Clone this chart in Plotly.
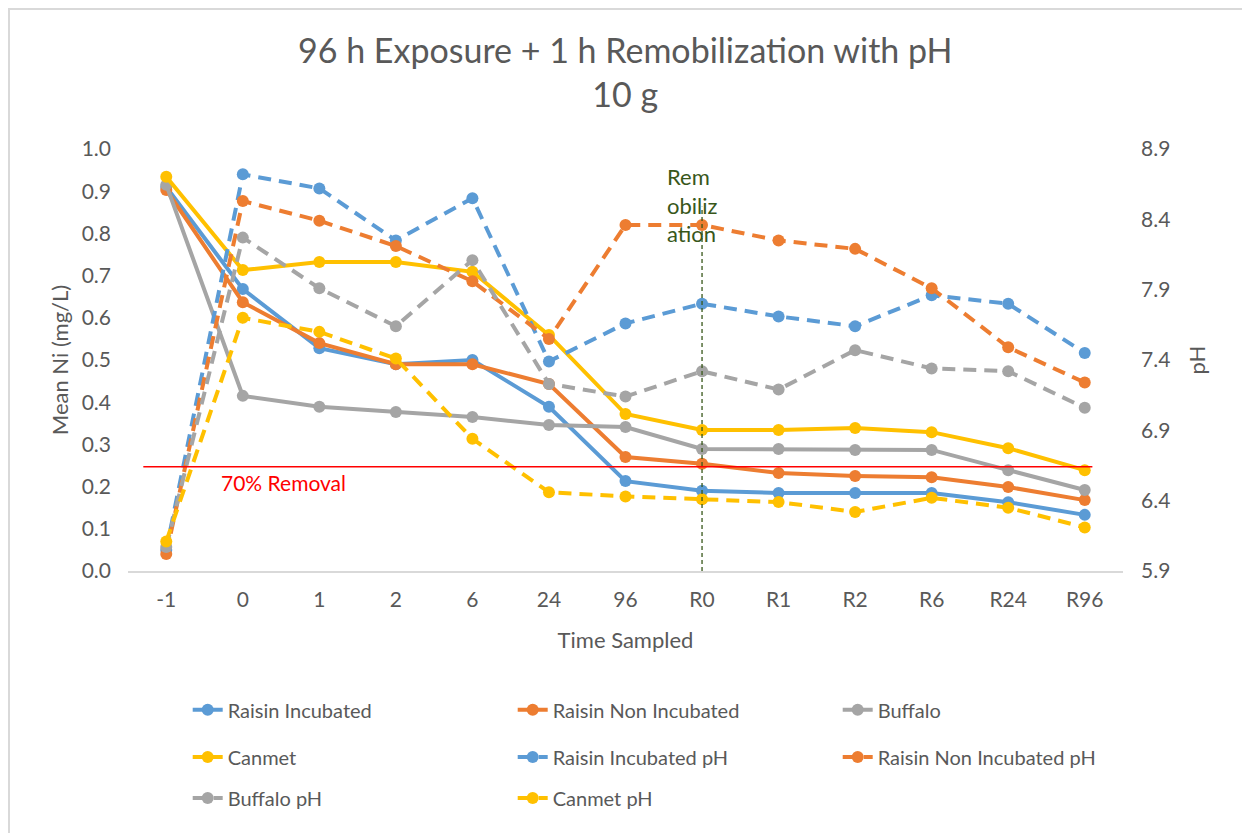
import plotly.graph_objects as go

categories = ["-1", "0", "1", "2", "6", "24", "96", "R0", "R1", "R2", "R6", "R24", "R96"]

raisin_inc = [0.91, 0.668, 0.528, 0.49, 0.50, 0.389, 0.213, 0.19, 0.185, 0.185, 0.185, 0.163, 0.133]
raisin_non = [0.903, 0.637, 0.54, 0.49, 0.49, 0.443, 0.27, 0.254, 0.232, 0.225, 0.222, 0.199, 0.168]
buffalo = [0.915, 0.415, 0.389, 0.377, 0.365, 0.346, 0.341, 0.289, 0.289, 0.287, 0.287, 0.239, 0.192]
canmet = [0.934, 0.713, 0.732, 0.732, 0.709, 0.559, 0.372, 0.334, 0.334, 0.339, 0.329, 0.291, 0.239]

raisin_inc_ph = [6.05, 8.72, 8.62, 8.25, 8.55, 7.39, 7.66, 7.80, 7.71, 7.64, 7.86, 7.80, 7.45]
raisin_non_ph = [6.02, 8.53, 8.39, 8.21, 7.96, 7.55, 8.36, 8.36, 8.25, 8.19, 7.91, 7.49, 7.24]
buffalo_ph = [6.07, 8.27, 7.91, 7.64, 8.11, 7.23, 7.14, 7.32, 7.19, 7.47, 7.34, 7.32, 7.06]
canmet_ph = [6.11, 7.70, 7.60, 7.41, 6.84, 6.46, 6.43, 6.41, 6.39, 6.32, 6.42, 6.35, 6.21]

removal_70 = 0.247

BLUE = "#5B9BD5"
ORANGE = "#ED7D31"
GRAY = "#A5A5A5"
YELLOW = "#FFC000"
TXT = "#595959"
FONT = "Lato"
DASH = "13px,8px"

fig = go.Figure()

series = [
    ("Raisin Incubated", raisin_inc, BLUE, "solid", "y", "legend"),
    ("Raisin Non Incubated", raisin_non, ORANGE, "solid", "y", "legend"),
    ("Buffalo", buffalo, GRAY, "solid", "y", "legend"),
    ("Canmet", canmet, YELLOW, "solid", "y", "legend2"),
    ("Raisin Incubated pH", raisin_inc_ph, BLUE, DASH, "y2", "legend2"),
    ("Raisin Non Incubated pH", raisin_non_ph, ORANGE, DASH, "y2", "legend2"),
    ("Buffalo pH", buffalo_ph, GRAY, DASH, "y2", "legend3"),
    ("Canmet pH", canmet_ph, YELLOW, DASH, "y2", "legend3"),
]

for name, vals, col, dash, yax, leg in series:
    fig.add_trace(go.Scatter(
        x=categories, y=vals, name=name, mode="lines+markers",
        line=dict(color=col, width=4, dash=dash),
        marker=dict(color=col, size=12),
        yaxis=yax, legend=leg,
    ))

fig.add_shape(type="line", xref="x", yref="y", x0=-0.3, x1=12.1,
              y0=removal_70, y1=removal_70, line=dict(color="#FF0000", width=1.5))
fig.add_shape(type="line", xref="x", yref="paper", x0="R0", x1="R0",
              y0=0, y1=0.863, line=dict(color="#38571A", width=1.3, dash="4px,3px"))
fig.add_shape(type="rect", xref="paper", yref="paper", x0=-0.1196, x1=1.1226,
              y0=-0.7, y1=1.3318, line=dict(color="#D9D9D9", width=2), layer="below")

fig.add_annotation(x=-0.3, y=removal_70, xref="x", yref="y", text="70% Removal",
                   showarrow=False, xanchor="left", yanchor="top", xshift=76, yshift=-1,
                   font=dict(family=FONT, size=21, color="#FF0000"))
fig.add_annotation(x="R0", y=0.867, xref="x", yref="paper", text="Rem<br>obiliz<br>ation",
                   showarrow=False, xanchor="left", yanchor="middle", xshift=-37, align="left",
                   font=dict(family=FONT, size=22, color="#38571A"))
fig.add_annotation(x=0.5, y=1.1825, xref="paper", yref="paper",
                   text="96 h Exposure + 1 h Remobilization with pH<br>10 g",
                   showarrow=False, xanchor="center", yanchor="middle",
                   font=dict(family=FONT, size=34, color=TXT))

leg_common = dict(orientation="h", xanchor="left", yanchor="middle", entrywidth=280,
                  entrywidthmode="pixels", bgcolor="rgba(0,0,0,0)",
                  font=dict(family=FONT, size=20, color=TXT), x=0.06)

fig.update_layout(
    width=1250, height=833,
    margin=dict(l=120, r=135, t=141, b=270, autoexpand=False),
    paper_bgcolor="white", plot_bgcolor="white",
    font=dict(family=FONT, size=20, color=TXT),
    xaxis=dict(type="category", range=[-0.5, 12.5], showgrid=False, showline=True,
               linecolor="#D9D9D9", linewidth=2, ticks="", tickfont=dict(size=21, color=TXT),
               ticklabelstandoff=9,
               title=dict(text="Time Sampled", font=dict(size=22, color=TXT), standoff=22)),
    yaxis=dict(range=[0, 1.0], dtick=0.1, tickformat=".1f", showgrid=False, zeroline=False,
               showline=False, ticks="", tickfont=dict(size=21, color=TXT), ticklabelstandoff=16,
               title=dict(text="Mean Ni (mg/L)", font=dict(size=22, color=TXT), standoff=6)),
    yaxis2=dict(range=[5.9, 8.9], dtick=0.5, tick0=5.9, tickformat=".1f", overlaying="y",
                side="right", showgrid=False, zeroline=False, showline=False, ticks="",
                tickfont=dict(size=21, color=TXT), ticklabelstandoff=17,
                title=dict(text="pH", font=dict(size=22, color=TXT), standoff=20)),
    legend=dict(y=-0.329, **leg_common),
    legend2=dict(y=-0.4408, **leg_common),
    legend3=dict(y=-0.538, **leg_common),
)

fig.write_html("out.html")
